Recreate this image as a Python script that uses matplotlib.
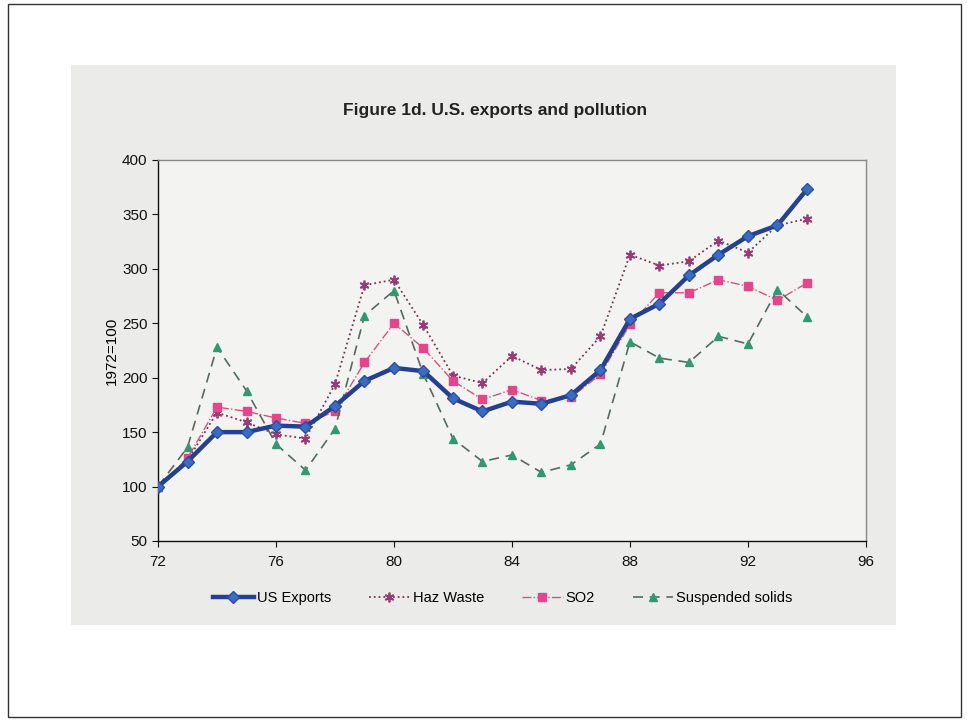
import matplotlib
matplotlib.use("Agg")
import matplotlib.pyplot as plt
from matplotlib.patches import Rectangle

# values (index, 1972=100)
years = list(range(72, 95))
us_exports = [100, 123, 150, 150, 156, 155, 174, 197, 209, 206, 181, 169,
              178, 176, 184, 207, 254, 268, 294, 313, 330, 340, 373]
haz_waste = [100, 124, 168, 159, 148, 144, 194, 285, 290, 248, 202, 195,
             220, 207, 208, 238, 313, 303, 307, 326, 315, 340, 346]
so2 = [100, 126, 173, 169, 163, 158, 169, 214, 250, 227, 197, 180,
       189, 179, 182, 203, 249, 278, 278, 290, 284, 271, 287]
susp_solids = [100, 136, 228, 188, 139, 115, 153, 257, 280, 203, 144, 123,
               129, 113, 120, 139, 233, 218, 214, 238, 231, 281, 256]

xticks = [72, 76, 80, 84, 88, 92, 96]
yticks = [50, 100, 150, 200, 250, 300, 350, 400]

plt.rcParams['font.family'] = ['Liberation Sans', 'DejaVu Sans']

fig = plt.figure(figsize=(9.67, 7.21), dpi=100)
fig.patch.set_facecolor('white')

# outer page border and grey scanned panel (kept behind the axes)
fig.patches.append(Rectangle((0.008, 0.005), 0.986, 0.99, transform=fig.transFigure,
                             fill=False, edgecolor='#333333', linewidth=1.0, zorder=-10))
fig.patches.append(Rectangle((0.0734, 0.1331), 0.8532, 0.7767, transform=fig.transFigure,
                             facecolor='#ebebe9', edgecolor='none', zorder=-10))

ax = fig.add_axes([0.1634, 0.2497, 0.7321, 0.5284])
ax.set_facecolor('#f3f3f1')

ax.plot(years, haz_waste, linestyle=':', color='#6e3a55', linewidth=1.3,
        marker=(6, 2, 0), markersize=7, markeredgecolor='#9b3a75', markeredgewidth=1.3,
        label='Haz Waste')
ax.plot(years, so2, linestyle='-.', color='#d2557f', linewidth=1.0,
        marker='s', markersize=5.5, markerfacecolor='#e8448c', markeredgecolor='#e8448c',
        label='SO2')
ax.plot(years, susp_solids, linestyle=(0, (6, 4)), color='#556b60', linewidth=1.2,
        marker='^', markersize=5.5, markerfacecolor='#2f9a70', markeredgecolor='#2f9a70',
        label='Suspended solids')
ax.plot(years, us_exports, linestyle='-', color='#24408e', linewidth=3.2,
        marker='D', markersize=6.5, markerfacecolor='#3a6cc4', markeredgecolor='#2a4f9e',
        label='US Exports', zorder=5)

ax.set_xlim(72, 96)
ax.set_ylim(50, 400)
ax.set_xticks(xticks)
ax.set_yticks(yticks)
ax.tick_params(axis='both', direction='out', length=4, labelsize=11, colors='#111111')
ax.tick_params(axis='x', pad=6)

for side in ['top', 'right']:
    ax.spines[side].set_color('#888888')
    ax.spines[side].set_linewidth(1.0)
for side in ['left', 'bottom']:
    ax.spines[side].set_color('#111111')
    ax.spines[side].set_linewidth(1.0)

ax.set_ylabel('1972=100', fontsize=11, labelpad=2)

fig.text(0.512, 0.847, 'Figure 1d. U.S. exports and pollution', ha='center', va='center',
         fontsize=12.5, fontweight='bold', color='#222222')

handles, labels = ax.get_legend_handles_labels()
order = [3, 0, 1, 2]
leg = fig.legend([handles[i] for i in order], [labels[i] for i in order],
                 loc='center', bbox_to_anchor=(0.52, 0.171), ncol=4, frameon=False,
                 fontsize=10.5, handlelength=2.8, columnspacing=2.6, handletextpad=0.2)

fig.savefig('out.png', dpi=100)
